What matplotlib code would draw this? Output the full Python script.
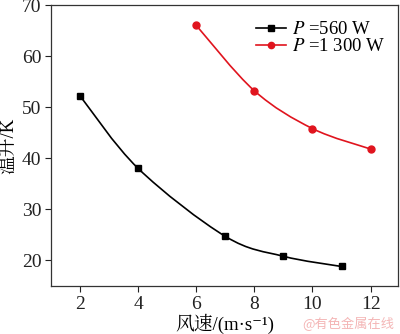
import matplotlib
matplotlib.use("Agg")
import matplotlib.pyplot as plt
from matplotlib.path import Path
from matplotlib.patches import PathPatch
import numpy as np

plt.rcParams['font.family'] = ['Liberation Serif', 'Noto Serif CJK SC', 'Noto Sans CJK SC', 'DejaVu Serif']
plt.rcParams['mathtext.fontset'] = 'stix'

wind_560 = [2, 4, 7, 9, 11]
temp_560 = [52.2, 38.0, 24.7, 20.8, 18.8]
wind_1300 = [6, 8, 10, 12]
temp_1300 = [66.0, 53.2, 45.8, 41.8]
labels = [r'$P$ =560 W', r'$P$ =1 300 W']
colors = ['black', '#e0141e']
markers = ['s', 'o']

xticks = [2, 4, 6, 8, 10, 12]
yticks = [20, 30, 40, 50, 60, 70]

fig = plt.figure(figsize=(4.0, 3.34), dpi=100)
ax = fig.add_axes([0.1275, 0.144, 0.868, 0.841])


def smooth_path(x, y):
    x = np.asarray(x, float); y = np.asarray(y, float)
    n = len(x)
    verts = [(x[0], y[0])]
    codes = [Path.MOVETO]
    for i in range(n - 1):
        p0 = np.array([x[max(i - 1, 0)], y[max(i - 1, 0)]])
        p1 = np.array([x[i], y[i]])
        p2 = np.array([x[i + 1], y[i + 1]])
        p3 = np.array([x[min(i + 2, n - 1)], y[min(i + 2, n - 1)]])
        c1 = p1 + (p2 - p0) / 6.0
        c2 = p2 - (p3 - p1) / 6.0
        verts += [tuple(c1), tuple(c2), tuple(p2)]
        codes += [Path.CURVE4] * 3
    return Path(verts, codes)


for xs, ys, c, m, lab in [(wind_560, temp_560, colors[0], markers[0], labels[0]),
                          (wind_1300, temp_1300, colors[1], markers[1], labels[1])]:
    ax.add_patch(PathPatch(smooth_path(xs, ys), facecolor='none', edgecolor=c, lw=1.2))
    ax.plot(xs, ys, linestyle='none', marker=m, color=c, markersize=5)
    ax.plot([], [], color=c, marker=m, markersize=4.5, lw=1.2, label=lab)

ax.set_xlim(1, 12.95)
ax.set_ylim(15, 70)
ax.set_xticks(xticks)
ax.set_yticks(yticks)
ax.tick_params(direction='out', length=4, width=0.8, labelsize=14, colors='#222222', pad=3)
for s in ax.spines.values():
    s.set_linewidth(0.9)
    s.set_color('#333333')

ax.set_xlabel('风速/(m·s⁻¹)', fontsize=13.5, labelpad=1)
ax.set_ylabel('温升/K', fontsize=13.5, labelpad=3)

leg = ax.legend(loc='upper right', frameon=False, fontsize=13.5, handlelength=1.6,
                handletextpad=0.3, labelspacing=0.0, borderaxespad=0.3,
                bbox_to_anchor=(1.0, 0.99))

fig.text(0.985, 0.008, '@有色金属在线', fontsize=9.5, color='#f4b6b6',
         ha='right', va='bottom', family=['Noto Sans CJK SC'])

fig.savefig('out.png', dpi=100)
